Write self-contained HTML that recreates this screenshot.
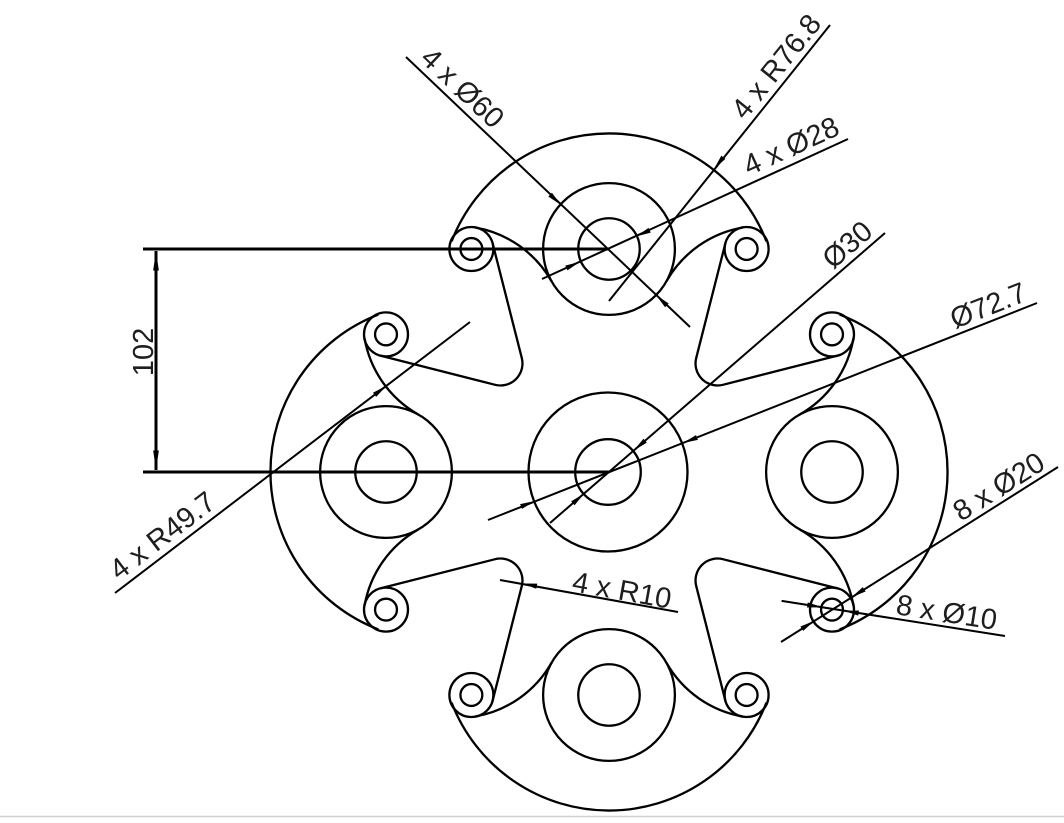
<!DOCTYPE html>
<html><head><meta charset="utf-8"><style>
html,body{margin:0;padding:0;background:#fff;}
svg{display:block;}
text{font-family:"Liberation Sans",Arial,sans-serif;font-size:29px;fill:#1e1e1e;}
</style></head><body>
<svg width="1064" height="823" viewBox="0 0 1064 823" xmlns="http://www.w3.org/2000/svg">
<rect x="0" y="0" width="1064" height="823" fill="#fff"/>
<line x1="0" y1="816.5" x2="1064" y2="816.5" stroke="#d0d0d0" stroke-width="1.5"/>
<defs>
<g id="q" fill="none" stroke="#000" stroke-width="2.3">
  <circle cx="608" cy="249" r="65.6"/>
  <circle cx="608" cy="249" r="30.6"/>
  <circle cx="471" cy="249" r="21.9"/>
  <circle cx="471" cy="249" r="10.9"/>
  <circle cx="745" cy="249" r="21.9"/>
  <circle cx="745" cy="249" r="10.9"/>
  <path d="M451.3,241.4 A168,168 0 0 1 764.7,241.4"/>
  <path d="M474.7,227.6 A108.7,108.7 0 0 1 550.9,281.3"/>
  <path d="M741.3,227.6 A108.7,108.7 0 0 0 665.1,281.3"/>
  <path d="M492.2,243.6 L521.2,357.6 A21.9,21.9 0 0 1 494.6,384.2 L380.6,355.2"/>
</g>
<path id="ah" d="M0,0 L-15,-2.6 L-15,2.6 Z" fill="#000"/>
</defs>
<g transform="translate(609,472) scale(1.0045) translate(-608,-471)">
  <use href="#q"/>
  <use href="#q" transform="rotate(90 608 471)"/>
  <use href="#q" transform="rotate(180 608 471)"/>
  <use href="#q" transform="rotate(270 608 471)"/>
</g>
<circle cx="608" cy="472" r="79.5" fill="none" stroke="#000" stroke-width="2.3"/>
<circle cx="608" cy="472" r="32.8" fill="none" stroke="#000" stroke-width="2.3"/>

<g stroke="#000" fill="none">
  <line x1="143" y1="249" x2="609" y2="249" stroke-width="3"/>
  <line x1="143" y1="472" x2="609" y2="472" stroke-width="3"/>
  <line x1="156" y1="251" x2="156" y2="470" stroke-width="3"/>
  <line x1="406" y1="57" x2="690" y2="327" stroke-width="2"/>
  <line x1="830" y1="25" x2="609" y2="301" stroke-width="2"/>
  <line x1="848" y1="139" x2="542" y2="279" stroke-width="2"/>
  <line x1="885" y1="233" x2="550" y2="523" stroke-width="2"/>
  <line x1="1037" y1="303" x2="488" y2="520" stroke-width="2"/>
  <line x1="1058" y1="467" x2="781" y2="642" stroke-width="2"/>
  <line x1="781.6" y1="600.9" x2="1005" y2="636" stroke-width="2"/>
  <line x1="500" y1="580" x2="678" y2="612" stroke-width="2"/>
  <line x1="115" y1="593" x2="470" y2="322" stroke-width="2"/>
</g>

<g>
  <use href="#ah" transform="translate(156,251) rotate(-90) scale(1.3,1.1)"/>
  <use href="#ah" transform="translate(156,470) rotate(90) scale(1.3,1.1)"/>
  <use href="#ah" transform="translate(561,205) rotate(43.5)"/>
  <use href="#ah" transform="translate(656,295) rotate(223.5)"/>
  <use href="#ah" transform="translate(714,169) rotate(128.7)"/>
  <use href="#ah" transform="translate(636,236.5) rotate(155.4)"/>
  <use href="#ah" transform="translate(580,261.8) rotate(-24.6)"/>
  <use href="#ah" transform="translate(633.8,450.5) rotate(139.1)"/>
  <use href="#ah" transform="translate(584.2,493.5) rotate(-40.9)"/>
  <use href="#ah" transform="translate(683,443) rotate(158.5)"/>
  <use href="#ah" transform="translate(535,501) rotate(-21.5)"/>
  <use href="#ah" transform="translate(851.5,597.3) rotate(147.7)"/>
  <use href="#ah" transform="translate(814.5,620.7) rotate(-32.3)"/>
  <use href="#ah" transform="translate(822.2,607.3) rotate(9)"/>
  <use href="#ah" transform="translate(843.8,610.7) rotate(189)"/>
  <use href="#ah" transform="translate(522,583.5) rotate(190.2)"/>
  <use href="#ah" transform="translate(386.5,385.7) rotate(-37.4)"/>
</g>

<text transform="translate(153,352) rotate(-90)" text-anchor="middle">102</text>
<text transform="translate(419,60) rotate(43.5)">4 x Ø60</text>
<text transform="translate(745,121) rotate(-51.3)">4 x R76.8</text>
<text transform="translate(749,176) rotate(-24.6)">4 x Ø28</text>
<text transform="translate(119,581) rotate(-37.3)">4 x R49.7</text>
<text transform="translate(833,270) rotate(-40.9)">Ø30</text>
<text transform="translate(955,329) rotate(-21.5)">Ø72.7</text>
<text transform="translate(961,522) rotate(-32.3)">8 x Ø20</text>
<text transform="translate(895,614) rotate(9)">8 x Ø10</text>
<text transform="translate(571,591) rotate(10.2)">4 x R10</text>
</svg>
</body></html>
